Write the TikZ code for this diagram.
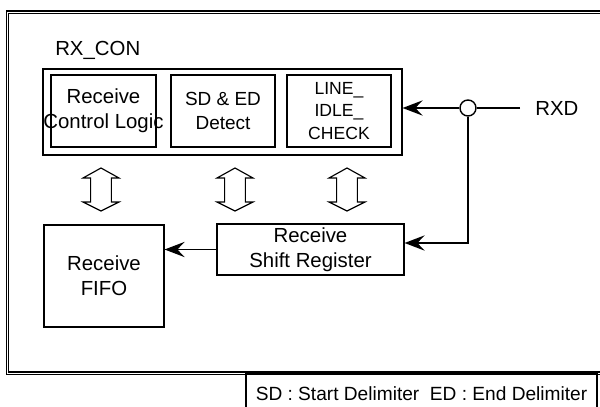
\documentclass[tikz,border=0pt]{standalone}
\usepackage{fontspec}
\setmainfont{Liberation Sans}
\usetikzlibrary{arrows.meta}

\tikzset{
  blk/.style={draw, line width=0.8pt, align=center, inner sep=0pt},
  sig/.style={line width=1.4pt, -{Stealth[length=5mm,width=3.8mm,inset=1.8mm]}},
  udarrow/.style={draw, line width=0.8pt, fill=white},
}

\begin{document}
\begin{tikzpicture}[line join=miter, font=\fontsize{14.5}{18}\selectfont]
\useasboundingbox (0,0) rectangle (15,10.15);
% frame
\draw[double, double distance=0.6pt, line width=0.8pt] (0.19,0.825) rectangle (15.2,9.85);
\node[anchor=west, inner sep=0pt] (lbl) at (1.375,8.9) {RX\_CON};
\node[blk, minimum width=8.975cm, minimum height=2.15cm] (rxcon) at (5.5625,7.35) {};
\node[blk, minimum width=2.625cm, minimum height=1.8cm] (ctrl) at (2.5875,7.375) {Receive\\\makebox[0pt]{Control Logic}};
\node[blk, minimum width=2.6cm, minimum height=1.8cm, font=\fontsize{13.5}{17}\selectfont] (sded) at (5.575,7.375) {SD \& ED\\Detect};
\node[blk, minimum width=2.6cm, minimum height=1.8cm, font=\fontsize{12.5}{16}\selectfont] (idle) at (8.475,7.375) {LINE\_\\IDLE\_\\CHECK};
\node[blk, minimum width=4.675cm, minimum height=1.275cm] (shift) at (7.7625,3.9125) {Receive\\Shift Register};
\node[blk, minimum width=3cm, minimum height=2.55cm] (fifo) at (2.6,3.25) {Receive\\FIFO};
% up/down block arrows
\foreach \x in {2.525,5.875,8.675}
  \draw[udarrow] (\x,5.95) -- ++(0.45,-0.25) -- ++(-0.19,0) -- ++(0,-0.6) -- ++(0.19,0)
    -- (\x,4.875) -- ++(-0.45,0.225) -- ++(0.19,0) -- ++(0,0.6) -- ++(-0.19,0) -- cycle;
% RXD input
\node[circle, draw, fill=white, line width=1pt, minimum size=0.4cm, inner sep=0pt] (tap) at (11.7,7.45) {};
\coordinate (rxdin) at (13.0,7.45);
\node[anchor=west, inner sep=0pt] (rxd) at (13.375,7.45) {RXD};
\draw[line width=1.2pt] (rxdin) -- (tap);
\draw[sig] (tap) -- (rxcon.east |- tap);
\coordinate (bend) at (11.7,4.075);
\draw[sig] (tap) -- (bend) -- (shift.east |- bend);
\draw[sig] (shift.west) -- (fifo.east |- shift.west);
% note
\node[draw, line width=0.8pt, minimum width=8.775cm, minimum height=1.025cm, inner sep=0pt,
  font=\fontsize{13.6}{16}\selectfont] (note) at (10.5375,0.3125) {SD : Start Delimiter~~ED : End Delimiter};
\end{tikzpicture}
\end{document}
